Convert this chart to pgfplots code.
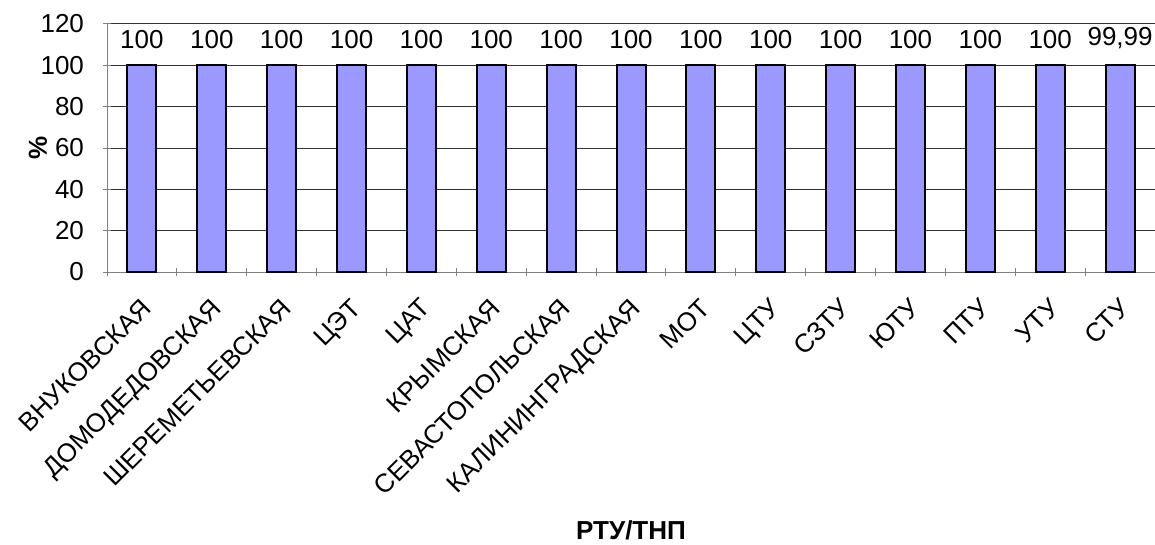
\documentclass[border=0pt]{standalone}
\usepackage{fontspec}
\setmainfont{Liberation Sans}
\usepackage{pgfplots}
\pgfplotsset{compat=1.18}
\definecolor{barfill}{HTML}{9999FF}
\begin{document}
\fontsize{13}{15.6}\selectfont
\begin{tikzpicture}
\begin{axis}[
  width=524pt, height=124pt,
  scale only axis,
  at={(0,0)}, anchor=south west,
  ybar, bar width=14.5pt,
  xmin=-0.5, xmax=14.5,
  ymin=0, ymax=120,
  ytick={0,20,...,120},
  xtick={0,...,14},
  xticklabels={ВНУКОВСКАЯ,ДОМОДЕДОВСКАЯ,ШЕРЕМЕТЬЕВСКАЯ,ЦЭТ,ЦАТ,КРЫМСКАЯ,СЕВАСТОПОЛЬСКАЯ,КАЛИНИНГРАДСКАЯ,МОТ,ЦТУ,СЗТУ,ЮТУ,ПТУ,УТУ,СТУ},
  minor xtick={-0.5,0.5,...,14.5},
  major x tick style={draw=none},
  minor x tick style={draw=gray, line width=0.5pt},
  y tick style={draw=gray, line width=0.5pt},
  tick align=outside,
  major tick length=4pt, minor tick length=4pt,
  axis lines=left,
  axis line style={draw=gray, line width=0.5pt, -},
  ymajorgrids,
  major grid style={draw=black!80, line width=0.5pt},
  /pgf/number format/assume math mode=true,
  tick label style={font=\fontsize{13}{15.6}\selectfont},
  x tick label style={rotate=45, anchor=north east, inner sep=2pt, xshift=-6pt, yshift=-4.5pt},
  y tick label style={xshift=-5pt},
  xlabel={\bfseries РТУ/ТНП},
  ylabel={\bfseries \%},
  x label style={at={(axis description cs:0.5,-1.04)}, anchor=center},
  y label style={at={(axis description cs:-0.066,0.5)}, anchor=center},
  label style={font=\fontsize{13}{15.6}\selectfont},
  nodes near coords,
  point meta=explicit symbolic,
  nodes near coords style={font=\fontsize{13}{15.6}\selectfont, anchor=south, inner sep=0pt, yshift=8pt},
  clip=false,
]
\addplot[fill=barfill, draw=black, line width=1pt] coordinates {
(0,100) [100]
(1,100) [100]
(2,100) [100]
(3,100) [100]
(4,100) [100]
(5,100) [100]
(6,100) [100]
(7,100) [100]
(8,100) [100]
(9,100) [100]
(10,100) [100]
(11,100) [100]
(12,100) [100]
(13,100) [100]
(14,99.99) [99,99]
};
\end{axis}
\pgfresetboundingbox
\path[use as bounding box] (-53.5pt,-136.5pt) rectangle (524pt,136pt);
\end{tikzpicture}
\end{document}
